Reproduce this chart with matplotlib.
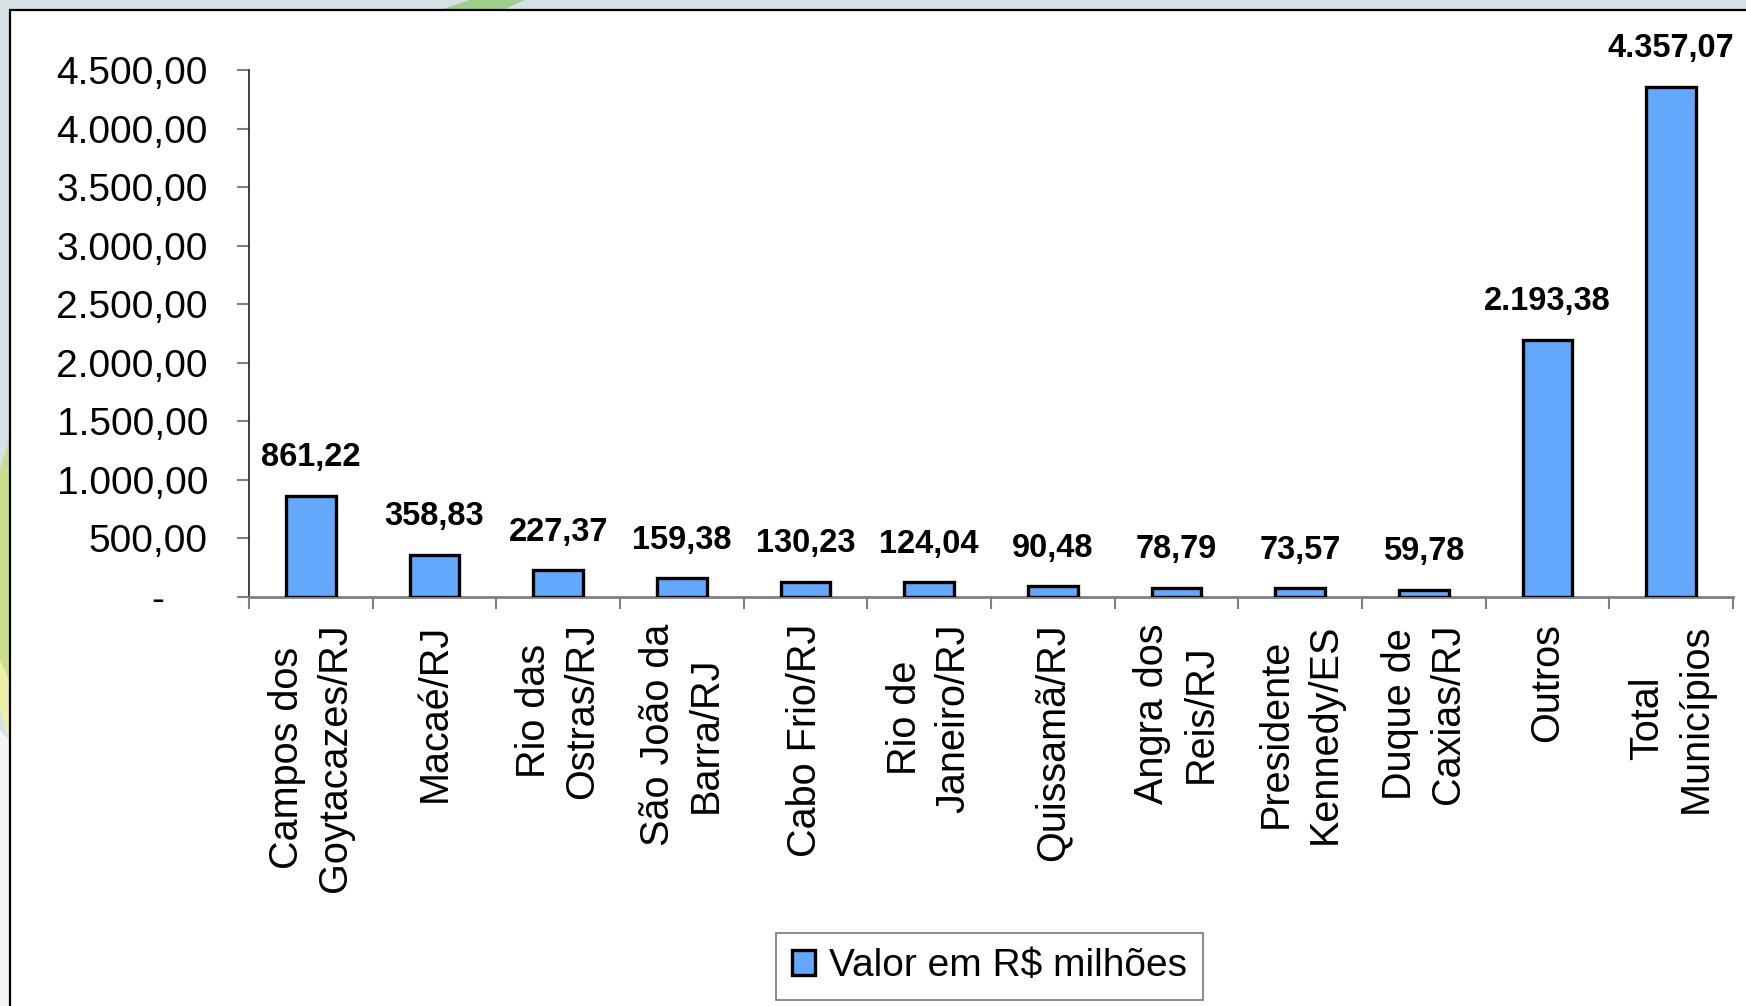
import numpy as np
import matplotlib
matplotlib.use("Agg")
import matplotlib.pyplot as plt
from matplotlib.patches import Rectangle, Polygon
from matplotlib.ticker import FixedLocator

plt.rcParams['font.family'] = ['Liberation Sans', 'DejaVu Sans']

categories = ["Campos dos\nGoytacazes/RJ", "Macaé/RJ", "Rio das\nOstras/RJ",
              "São João da\nBarra/RJ", "Cabo Frio/RJ", "Rio de\nJaneiro/RJ",
              "Quissamã/RJ", "Angra dos\nReis/RJ", "Presidente\nKennedy/ES",
              "Duque de\nCaxias/RJ", "Outros", "Total\nMunicípios"]
values = [861.22, 358.83, 227.37, 159.38, 130.23, 124.04, 90.48, 78.79,
          73.57, 59.78, 2193.38, 4357.07]
yticks = [0, 500, 1000, 1500, 2000, 2500, 3000, 3500, 4000, 4500]
series_name = "Valor em R$ milhões"


def br(v):
    s = f"{v:,.2f}"
    return s.replace(",", "X").replace(".", ",").replace("X", ".")


W, H = 1746, 1006
fig = plt.figure(figsize=(W / 100, H / 100), dpi=100)
fig.patch.set_facecolor('#d6e1e6')

# background decoration
deco = [
    ([(0, 1 - 470 / H), (9 / W, 1 - 440 / H), (9 / W, 1 - 730 / H), (0, 1 - 700 / H)], '#c9df8e'),
    ([(0, 1 - 660 / H), (9 / W, 1 - 680 / H), (9 / W, 1 - 740 / H), (0, 1 - 710 / H)], '#eef0a8'),
    ([(0, 1 - 730 / H), (9 / W, 1 - 740 / H), (9 / W, 0), (0, 0)], '#f1f5f7'),
    ([(443 / W, 1 - 9 / H), (470 / W, 1), (525 / W, 1), (505 / W, 1 - 9 / H)], '#9dcf88'),
]
for pts, col in deco:
    fig.patches.append(Polygon(pts, closed=True, transform=fig.transFigure,
                               facecolor=col, edgecolor='none', zorder=-3))

# white panel (bottom edge off-canvas)
fig.patches.append(Rectangle((9.5 / W, -0.05), 1.2, 0.05 + (1006 - 9.5) / H, transform=fig.transFigure,
                             facecolor='white', edgecolor='black', linewidth=1.6, zorder=-2))

ax = fig.add_axes([249 / W, (H - 597) / H, (1733 - 249) / W, (597 - 70) / H])
ax.patch.set_alpha(0)

x = np.arange(len(categories))
ax.bar(x, values, width=0.4, color='#63a8fd', edgecolor='black', linewidth=2.4, zorder=3,
       label=series_name)

for xi, v in zip(x, values):
    ax.annotate(br(v), (xi, v), xytext=(0, 27.5), textcoords='offset points',
                ha='center', va='center', fontsize=23.5, fontweight='bold')

ax.set_xlim(-0.5, len(categories) - 0.5)
ax.set_ylim(0, 4500)
for s in ['top', 'right']:
    ax.spines[s].set_visible(False)
ax.spines['left'].set_color('#222222')
ax.spines['left'].set_linewidth(1.2)
ax.spines['bottom'].set_color('#808080')
ax.spines['bottom'].set_linewidth(2)

ax.set_yticks(yticks)
ax.set_yticklabels(["-    " if t == 0 else br(t) for t in yticks])
ax.tick_params(axis='y', direction='out', length=8.6, width=1.5, color='#808080',
               labelsize=28, pad=21)

ax.set_xticks(x)
ax.set_xticklabels(categories, rotation=90, multialignment='center', linespacing=1.35)
ax.xaxis.set_minor_locator(FixedLocator(np.arange(-0.5, len(categories), 1.0)))
ax.tick_params(axis='x', which='major', length=0, labelsize=28.5, pad=19)
ax.tick_params(axis='x', which='minor', direction='out', length=8.6, width=1.5, color='#808080')

leg = fig.legend(loc='center', bbox_to_anchor=(989.5 / W, 1 - 966.5 / H), fontsize=28,
                 frameon=True, fancybox=False, edgecolor='#555555', handlelength=0.6,
                 handleheight=0.6, handletextpad=0.35, borderpad=0.4)
leg.get_frame().set_linewidth(1.2)

fig.savefig('out.png', dpi=100, facecolor=fig.get_facecolor())
